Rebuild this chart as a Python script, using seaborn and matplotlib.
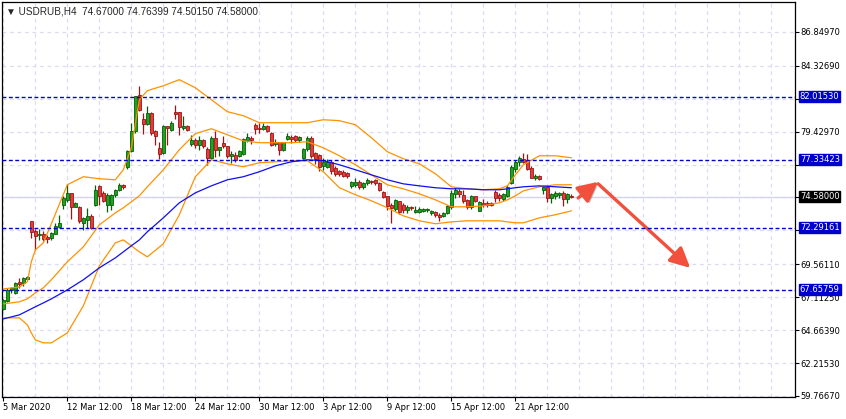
import numpy as np
import pandas as pd
import matplotlib
matplotlib.use("Agg")
import matplotlib.pyplot as plt
import matplotlib.patheffects as pe
from matplotlib import font_manager
import seaborn as sns

# USDRUB H4 candles (price values)
open_ = [66.25, 66.80, 67.66, 67.41, 68.28, 68.16, 68.45, 72.75, 72.07, 71.72,
         71.83, 71.58, 71.51, 71.83, 72.37, 73.99, 74.36, 74.86, 73.86, 73.82,
         72.67, 72.87, 73.17, 74.00, 75.40, 74.86, 73.99, 73.99, 74.74, 75.11,
         75.48, 76.84, 77.96, 79.45, 82.18, 80.37, 80.00, 80.82, 79.45, 78.21,
         77.84, 79.82, 79.52, 80.91, 80.86, 79.70, 79.87, 78.51, 78.83, 78.46,
         78.83, 78.14, 77.47, 78.96, 78.08, 78.58, 78.38, 77.64, 77.71, 77.64,
         77.79, 78.83, 78.96, 79.95, 79.70, 79.63, 79.82, 79.37, 78.53, 78.63,
         78.08, 78.88, 79.00, 79.08, 78.78, 77.47, 78.14, 78.96, 77.84, 77.71,
         76.89, 76.80, 77.21, 76.72, 76.47, 76.45, 76.35, 75.40, 75.48, 75.68,
         75.31, 75.60, 75.78, 75.80, 75.60, 74.98, 74.61, 73.99, 73.67, 74.24,
         73.99, 73.57, 73.82, 73.42, 73.49, 73.54, 73.57, 73.37, 73.49, 73.25,
         73.17, 73.37, 73.79, 74.79, 75.03, 74.74, 74.36, 73.79, 74.61, 73.54,
         74.12, 74.12, 74.10, 74.98, 74.74, 74.44, 74.68, 75.60, 76.67, 77.17,
         77.42, 77.34, 76.72, 75.98, 76.10, 75.11, 75.35, 74.49, 74.68, 74.70,
         74.86, 74.44, 74.67]
high = [66.95, 67.83, 67.90, 68.25, 68.53, 68.65, 68.70, 72.80, 72.18, 72.18,
        72.07, 71.75, 71.99, 72.60, 73.24, 74.66, 75.55, 74.90, 74.20, 73.90,
        73.12, 73.74, 73.30, 75.45, 75.50, 75.00, 74.90, 74.80, 75.20, 75.60,
        75.55, 78.10, 80.10, 82.10, 82.85, 80.82, 81.36, 80.90, 79.58, 78.70,
        79.90, 79.85, 80.20, 81.43, 80.91, 80.57, 79.95, 79.20, 78.95, 79.08,
        78.90, 78.29, 79.10, 79.45, 78.30, 79.10, 78.40, 77.96, 77.90, 78.10,
        78.95, 79.37, 79.10, 80.07, 80.07, 80.07, 79.90, 79.40, 78.88, 78.70,
        78.70, 79.37, 79.20, 79.15, 79.10, 78.20, 79.10, 79.10, 77.90, 77.80,
        77.47, 77.40, 77.30, 76.85, 76.60, 76.55, 76.40, 75.75, 75.98, 75.80,
        75.70, 75.98, 75.85, 75.90, 75.70, 75.05, 74.65, 74.10, 74.40, 74.30,
        74.10, 74.00, 73.90, 73.90, 73.80, 73.75, 73.78, 73.60, 73.55, 73.37,
        73.45, 74.00, 75.10, 75.35, 75.20, 75.10, 74.40, 74.75, 74.65, 74.30,
        74.40, 74.30, 74.20, 75.10, 74.85, 74.90, 75.45, 76.95, 77.35, 77.60,
        77.85, 77.75, 76.85, 76.30, 76.20, 75.40, 75.45, 74.85, 75.00, 74.95,
        75.00, 74.85, 74.764]
low = [66.15, 66.75, 67.46, 67.36, 67.79, 67.96, 68.40, 71.53, 70.64, 71.38,
       71.26, 71.18, 71.38, 71.80, 72.26, 73.70, 74.20, 72.95, 73.80, 72.60,
       72.13, 72.26, 72.20, 73.90, 73.99, 74.20, 73.49, 73.62, 74.60, 75.00,
       75.20, 76.67, 77.90, 79.30, 80.95, 79.25, 79.95, 79.20, 78.46, 77.40,
       77.80, 78.46, 79.50, 80.37, 79.20, 79.57, 79.45, 78.33, 78.20, 78.10,
       78.20, 76.97, 77.40, 77.54, 77.60, 78.20, 77.50, 77.10, 77.20, 77.55,
       77.70, 78.70, 78.50, 79.28, 79.33, 79.57, 79.40, 78.40, 78.33, 77.71,
       78.00, 78.78, 78.58, 78.70, 78.70, 77.40, 78.00, 77.50, 77.00, 76.54,
       76.60, 76.70, 76.30, 76.10, 76.15, 76.05, 75.98, 75.25, 75.30, 75.20,
       75.20, 75.50, 75.55, 75.50, 75.00, 74.50, 73.60, 72.67, 73.50, 73.30,
       73.40, 73.35, 73.60, 73.35, 73.40, 73.45, 73.48, 73.25, 73.10, 72.75,
       73.10, 73.30, 73.70, 74.50, 74.60, 74.10, 73.70, 73.70, 74.20, 73.50,
       73.80, 73.85, 73.90, 74.20, 74.30, 74.30, 74.60, 75.55, 76.45, 76.90,
       77.10, 76.60, 75.95, 75.80, 75.85, 74.80, 74.20, 74.10, 74.40, 74.50,
       73.90, 74.10, 74.5015]
close = [66.90, 67.66, 67.79, 68.16, 68.11, 68.53, 68.65, 72.00, 71.68, 71.77,
         71.43, 71.46, 71.88, 72.43, 72.67, 74.51, 74.88, 73.86, 74.12, 72.75,
         73.00, 73.17, 72.26, 75.10, 74.66, 74.24, 74.73, 74.74, 75.11, 75.48,
         75.28, 78.03, 79.45, 82.05, 81.01, 80.00, 80.82, 79.33, 79.08, 77.79,
         79.87, 79.67, 80.07, 80.76, 79.78, 79.87, 79.57, 78.83, 78.46, 78.83,
         78.33, 77.47, 78.99, 78.08, 78.29, 78.38, 77.59, 77.79, 77.29, 77.96,
         78.88, 79.03, 78.78, 79.63, 79.63, 79.82, 79.45, 78.46, 78.66, 78.08,
         78.63, 79.08, 78.88, 78.78, 79.00, 78.14, 78.99, 77.59, 77.39, 76.84,
         77.14, 77.14, 76.47, 76.30, 76.30, 76.15, 76.10, 75.65, 75.72, 75.31,
         75.60, 75.80, 75.65, 75.60, 75.06, 74.56, 73.87, 73.75, 74.36, 73.49,
         73.62, 73.82, 73.75, 73.62, 73.67, 73.67, 73.67, 73.54, 73.25, 73.12,
         73.37, 73.87, 74.86, 75.11, 74.79, 74.24, 73.79, 74.61, 74.24, 74.19,
         73.99, 73.99, 74.00, 74.53, 74.49, 74.79, 75.28, 76.77, 77.21, 77.47,
         77.21, 76.67, 76.02, 76.10, 75.92, 75.28, 74.49, 74.79, 74.86, 74.86,
         74.44, 74.79, 74.58]

# Bollinger bands (orange) and the slow moving average (blue), read at these bars
line_bars = [0, 4, 6, 7, 8, 10, 12, 16, 20, 24, 28, 30, 32, 34, 36, 40, 44, 48,
             52, 56, 60, 64, 68, 72, 76, 80, 84, 88, 92, 96, 100, 104, 108, 112,
             116, 120, 124, 126, 128, 130, 134, 138, 142]
bb_upper = [67.73, 67.88, 68.26, 69.75, 70.64, 71.16, 72.57, 75.48, 76.08, 75.93,
            75.85, 76.60, 78.23, 81.81, 82.48, 82.85, 83.30, 82.70, 81.81, 80.92,
            80.62, 80.10, 80.10, 80.10, 80.10, 80.32, 80.25, 79.95, 78.98, 77.94,
            77.42, 77.04, 76.30, 75.33, 75.18, 75.11, 75.18, 75.40, 76.22, 76.97,
            77.64, 77.64, 77.49]
bb_middle = [66.62, 66.77, 66.99, 67.21, 67.44, 67.81, 68.41, 69.75, 70.86, 72.50,
             73.39, 73.77, 74.21, 74.66, 75.33, 76.60, 78.09, 79.28, 79.65, 79.20,
             78.75, 78.61, 78.61, 78.61, 78.68, 78.23, 77.64, 76.97, 76.22, 75.48,
             75.18, 74.81, 74.36, 73.84, 73.84, 73.91, 74.14, 74.36, 74.66, 75.03,
             75.33, 75.48, 75.48]
bb_lower = [65.58, 65.58, 65.06, 64.46, 63.94, 63.72, 63.72, 64.46, 66.47, 69.45,
            71.16, 71.38, 70.94, 70.49, 70.12, 71.09, 73.25, 76.08, 77.34, 77.04,
            76.82, 77.12, 77.19, 77.27, 77.27, 76.45, 75.26, 74.74, 74.29, 73.77,
            73.17, 72.80, 72.58, 72.72, 72.80, 72.80, 72.80, 72.72, 72.65, 72.65,
            73.02, 73.25, 73.54]
ma_blue = [65.50, 65.80, 66.10, 66.25, 66.40, 66.69, 66.99, 67.66, 68.41, 69.30,
           70.04, 70.49, 70.94, 71.38, 71.98, 73.02, 74.14, 74.88, 75.40, 75.85,
           76.08, 76.45, 76.89, 77.19, 77.34, 77.27, 76.97, 76.60, 76.22, 75.85,
           75.55, 75.40, 75.26, 75.18, 75.18, 75.11, 75.11, 75.18, 75.26, 75.33,
           75.40, 75.33, 75.26]

levels = [82.01530, 77.33423, 72.29161, 67.65759]
last_price = 74.58000
header = "\u25BC USDRUB,H4  74.67000 74.76399 74.50150 74.58000"

date_bars = [0, 16, 32, 48, 64, 80, 96, 112, 128]
date_labels = ["5 Mar 2020", "12 Mar 12:00", "18 Mar 12:00", "24 Mar 12:00",
               "30 Mar 12:00", "3 Apr 12:00", "9 Apr 12:00", "15 Apr 12:00",
               "21 Apr 12:00"]
price_ticks = [59.7667, 62.2153, 64.6639, 67.1125, 69.5611, 72.0897, 74.5383,
               76.9811, 79.4297, 81.8783, 84.3269, 86.8497]
# scale labels that sit under the level boxes are covered in the original
covered = [72.0897, 74.5383, 76.9811, 81.8783]

# hand-drawn forecast arrow
arrow_bars = [143.7, 148.7, 171.7]
arrow_prices = [74.50, 75.70, 69.30]

sns.set_style("white")
names = {f.name for f in font_manager.fontManager.ttflist}
if "Liberation Sans Narrow" in names:
    axis_family, axis_size = "Liberation Sans Narrow", 7.6
else:
    axis_family, axis_size = "DejaVu Sans", 6.0
plt.rcParams["font.family"] = [axis_family, "DejaVu Sans"]

bull_fill, bull_edge = "#1aa51a", "#0a5c0a"
bear_fill, bear_edge = "#e23c3c", "#9c1414"
orange = "#ff9200"
level_blue = "#0000cc"

fig = plt.figure(figsize=(8.46, 4.19), dpi=100)
ax = fig.add_axes([2 / 846, 22 / 419, 793 / 846, 395 / 419])

df = pd.DataFrame({"bar": np.arange(len(open_)), "open": open_, "high": high,
                   "low": low, "close": close})
up = df["close"] >= df["open"]
for sub, fill, edge in [(df[up], bull_fill, bull_edge), (df[~up], bear_fill, bear_edge)]:
    ax.vlines(sub["bar"], sub["low"], sub["high"], color=edge, lw=0.9, zorder=3)
    body = (sub["close"] - sub["open"]).abs().clip(lower=0.08)
    ax.bar(sub["bar"], body, bottom=sub[["open", "close"]].min(axis=1), width=0.72,
           color=fill, edgecolor=edge, linewidth=0.6, zorder=4)

lines = pd.DataFrame({"bar": line_bars, "upper": bb_upper, "middle": bb_middle,
                      "lower": bb_lower, "ma": ma_blue})
for col, colr in [("upper", orange), ("middle", orange), ("lower", orange), ("ma", "#1010ee")]:
    sns.lineplot(data=lines, x="bar", y=col, color=colr, lw=0.9, ax=ax, zorder=5)

for lv in levels:
    ax.axhline(lv, color=level_blue, lw=1.0, ls=(0, (2.8, 1.8)), zorder=6)
ax.axhline(last_price, color="#d4d4ec", lw=1.0, zorder=1)

# arrow with soft shadow
arrow_kw = dict(arrowstyle="-|>,head_length=0.8,head_width=0.4", color="#f0503c",
                lw=2.4, shrinkA=0, shrinkB=0, mutation_scale=15)
shadow = [pe.SimplePatchShadow(offset=(1.5, -1.5), shadow_rgbFace="#888888", alpha=0.5), pe.Normal()]
a1 = ax.annotate("", xy=(arrow_bars[1], arrow_prices[1]), xytext=(arrow_bars[0], arrow_prices[0]),
                 arrowprops=arrow_kw)
a2 = ax.annotate("", xy=(arrow_bars[2], arrow_prices[2]), xytext=(arrow_bars[1], arrow_prices[1] - 0.15),
                 arrowprops=arrow_kw)
for a in (a1, a2):
    a.arrow_patch.set_path_effects(shadow)

ax.set_xlim(-0.33, 197.9)
ax.set_ylim(59.69, 89.08)
ax.set_xlabel("")
ax.set_ylabel("")

ax.set_xticks(date_bars)
ax.set_xticklabels(date_labels, ha="left")
ax.set_xticks(np.arange(8, 200, 8), minor=True)
ax.tick_params(axis="x", which="major", direction="out", length=3, width=0.8, pad=1.5,
               labelsize=axis_size, bottom=True, colors="black")
ax.tick_params(axis="x", which="minor", length=0)

ax.yaxis.tick_right()
ax.set_yticks(price_ticks)
ax.set_yticklabels(["" if v in covered else f"{v:.5f}" for v in price_ticks])
ax.tick_params(axis="y", direction="out", length=3, width=0.8, pad=1,
               labelsize=axis_size, right=True, colors="black")

ax.grid(True, which="both", axis="x", color="#dcdcf0", lw=0.9, ls=(0, (3, 3)))
ax.grid(True, which="major", axis="y", color="#dcdcf0", lw=0.9, ls=(0, (3, 3)))
ax.set_axisbelow(True)
for s in ax.spines.values():
    s.set_color("black")
    s.set_linewidth(0.9)

# price labels on the right scale
for lv in levels:
    ax.annotate(f"{lv:.5f}", xy=(1, lv), xycoords=("axes fraction", "data"),
                xytext=(3.5, 0), textcoords="offset points", ha="left", va="center",
                color="white", fontsize=axis_size, annotation_clip=False, zorder=10,
                bbox=dict(boxstyle="square,pad=0.12", fc=level_blue, ec=level_blue))
ax.annotate(f"{last_price:.5f}", xy=(1, last_price), xycoords=("axes fraction", "data"),
            xytext=(3.5, 0), textcoords="offset points", ha="left", va="center",
            color="white", fontsize=axis_size, annotation_clip=False, zorder=10,
            bbox=dict(boxstyle="square,pad=0.12", fc="black", ec="black"))

fig.text(6 / 846, 1 - 11 / 419, header, ha="left", va="center", fontsize=7.2,
         family=["Liberation Sans", "DejaVu Sans"])

fig.savefig("out.png", dpi=100)
